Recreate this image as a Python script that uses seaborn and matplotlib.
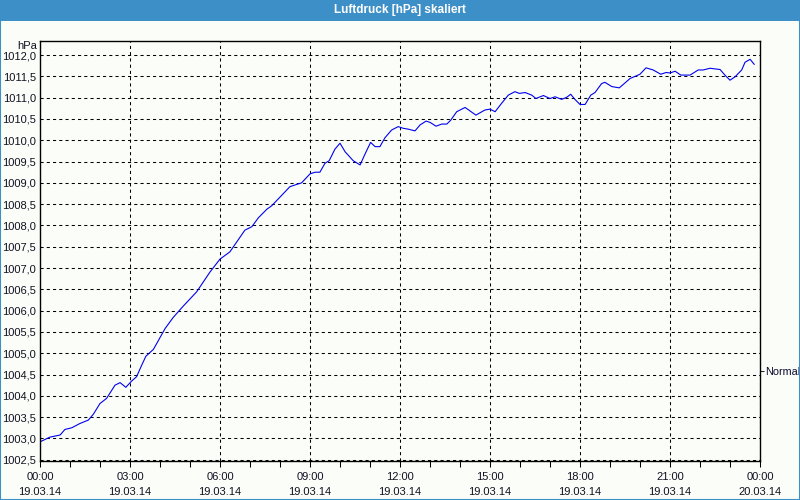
import matplotlib
matplotlib.use("Agg")
import matplotlib.pyplot as plt
import matplotlib.dates as mdates
from matplotlib.patches import Rectangle
from matplotlib.ticker import FuncFormatter, MultipleLocator
import numpy as np
import pandas as pd
import seaborn as sns

# ---------------- data ----------------
TITLE = "Luftdruck [hPa] skaliert"
UNIT = "hPa"
NORMAL_LABEL = "Normal"
NORMAL_HPA = 1004.58
START = "2014-03-19 00:00"
END = "2014-03-20 00:00"

hours = [0.00, 0.33, 0.67, 0.83, 1.06, 1.33, 1.61, 1.78, 2.00, 2.22, 2.50, 2.67,
         2.86, 3.06, 3.22, 3.39, 3.53, 3.78, 4.17, 4.44, 4.78, 5.22, 5.67, 6.00,
         6.33, 6.83, 7.06, 7.28, 7.56, 7.72, 8.06, 8.33, 8.50, 8.72, 9.00, 9.17,
         9.33, 9.50, 9.64, 9.83, 10.00, 10.17, 10.44, 10.67, 10.83, 11.02, 11.17,
         11.33, 11.50, 11.72, 11.94, 12.11, 12.28, 12.50, 12.67, 12.87, 13.00,
         13.20, 13.39, 13.56, 13.69, 13.89, 14.17, 14.33, 14.53, 14.83, 15.00,
         15.17, 15.39, 15.61, 15.83, 15.98, 16.17, 16.39, 16.53, 16.78, 17.00,
         17.17, 17.39, 17.56, 17.69, 17.83, 18.00, 18.17, 18.36, 18.50, 18.72,
         18.83, 19.06, 19.31, 19.67, 20.00, 20.20, 20.44, 20.69, 20.87, 21.00,
         21.17, 21.36, 21.67, 21.94, 22.11, 22.33, 22.67, 22.83, 23.00, 23.17,
         23.39, 23.50, 23.67, 23.81]
pressure = [1002.92, 1003.03, 1003.08, 1003.21, 1003.25, 1003.35, 1003.43, 1003.57,
            1003.82, 1003.94, 1004.25, 1004.31, 1004.20, 1004.35, 1004.45, 1004.72,
            1004.93, 1005.09, 1005.58, 1005.84, 1006.11, 1006.44, 1006.91, 1007.21,
            1007.38, 1007.89, 1007.97, 1008.18, 1008.38, 1008.46, 1008.71, 1008.91,
            1008.95, 1009.00, 1009.21, 1009.25, 1009.25, 1009.46, 1009.52, 1009.79,
            1009.93, 1009.73, 1009.52, 1009.42, 1009.67, 1009.95, 1009.85, 1009.85,
            1010.06, 1010.24, 1010.32, 1010.28, 1010.26, 1010.22, 1010.36, 1010.45,
            1010.42, 1010.33, 1010.38, 1010.38, 1010.47, 1010.67, 1010.77, 1010.69,
            1010.59, 1010.71, 1010.73, 1010.67, 1010.87, 1011.06, 1011.14, 1011.10,
            1011.12, 1011.06, 1010.98, 1011.05, 1010.98, 1011.02, 1010.96, 1011.01,
            1011.08, 1010.96, 1010.84, 1010.84, 1011.06, 1011.12, 1011.33, 1011.36,
            1011.26, 1011.23, 1011.45, 1011.55, 1011.70, 1011.65, 1011.55, 1011.59,
            1011.58, 1011.62, 1011.53, 1011.53, 1011.65, 1011.65, 1011.69, 1011.66,
            1011.53, 1011.41, 1011.49, 1011.65, 1011.83, 1011.90, 1011.78]

df = pd.DataFrame({
    "time": pd.Timestamp(START) + pd.to_timedelta(np.array(hours), unit="h"),
    "hPa": pressure,
})

# ---------------- style ----------------
BG = "#fbfef8"
BAR = "#3d8fc8"
sns.set_theme(style="white")
plt.rcParams["font.family"] = ["Liberation Sans", "DejaVu Sans"]
plt.rcParams["lines.scale_dashes"] = True

fig = plt.figure(figsize=(8, 5), dpi=100, facecolor=BG)
ax = fig.add_axes([40 / 800, 39 / 500, 720 / 800, 420 / 500])
ax.set_facecolor(BG)

sns.lineplot(data=df, x="time", y="hPa", color="#0000f0", linewidth=0.8, ax=ax)

ax.set_xlim(pd.Timestamp(START), pd.Timestamp(END))
ax.set_ylim(1002.47, 1012.33)
ax.set_xlabel("")
ax.set_ylabel("")

ax.yaxis.set_major_locator(MultipleLocator(0.5))
ax.yaxis.set_major_formatter(FuncFormatter(lambda v, p: f"{v:.1f}".replace(".", ",")))
ax.xaxis.set_major_locator(mdates.HourLocator(interval=3))
ax.xaxis.set_minor_locator(mdates.HourLocator(interval=1))
ax.xaxis.set_major_formatter(mdates.DateFormatter("%H:%M\n%d.%m.%y"))

ax.grid(True, which="major", axis="both", color="black", linestyle=(0, (3, 3)),
        linewidth=0.75)
ax.tick_params(axis="y", length=0, pad=3, labelsize=8, labelcolor="#111122")
ax.tick_params(axis="x", which="both", direction="out", length=4, width=0.75,
               color="black", bottom=True, pad=4, labelsize=8, labelcolor="#111122")
for lbl in ax.get_xticklabels():
    lbl.set_linespacing(1.55)

for s in ax.spines.values():
    s.set_visible(True)
    s.set_color("black")
    s.set_linewidth(1.0)

# right side "Normal" marker
sec = ax.secondary_yaxis("right")
sec.set_yticks([NORMAL_HPA], labels=[NORMAL_LABEL])
sec.tick_params(length=3, width=0.75, pad=0.5, labelsize=7.8, labelcolor="#0a0a30")
sec.spines["right"].set_visible(False)

# unit label
fig.text(37 / 800, 1 - 46 / 500, UNIT, ha="right", va="center", fontsize=8,
         color="#111122")

# title bar
fig.patches.append(Rectangle((0, 1 - 21 / 500), 1, 21 / 500, transform=fig.transFigure,
                             facecolor=BAR, edgecolor="none", zorder=0))
fig.text(0.5, 1 - 10.5 / 500, TITLE, ha="center", va="center", fontsize=8.5,
         fontweight="bold", color="white")
# outer frame
fig.patches.append(Rectangle((0, 0), 1, 1, transform=fig.transFigure, fill=False,
                             edgecolor=BAR, linewidth=1.5, zorder=5))

fig.savefig("out.png", dpi=100, facecolor=BG)
